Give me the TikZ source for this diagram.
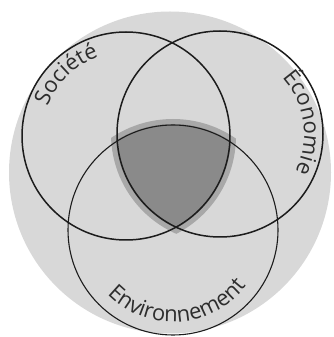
\documentclass[tikz,border=0pt]{standalone}
\usepackage{fontspec}
\setmainfont{Open Sans}
\usetikzlibrary{decorations.text}
\definecolor{bgc}{RGB}{216,216,216}
\definecolor{haloc}{RGB}{168,168,168}
\definecolor{darkc}{RGB}{138,138,138}
\definecolor{linec}{RGB}{28,28,28}
\definecolor{textc}{RGB}{45,45,45}
\tikzset{
  ring/.style={draw=linec, line width=1.5pt},
  arclabel/.style={decorate, decoration={text along path, text align=center, text={#1}}}
}
\begin{document}
\begin{tikzpicture}[x=1pt,y=1pt]
\useasboundingbox (0,0) rectangle (334,337);
% background disc
\fill[bgc] (170,164.5) circle[radius=161];
% halo of the common part
\begin{scope}
  \clip (126,201) circle[radius=110];
  \clip (220,203) circle[radius=109];
  \fill[haloc] (173,107) circle[radius=111];
\end{scope}
% common part
\begin{scope}
  \clip (126,201) circle[radius=105];
  \clip (220,203) circle[radius=104];
  \fill[darkc] (173,107) circle[radius=106];
\end{scope}
% the three circles
\node[ring, circle, minimum size=208pt, inner sep=0pt] (soc) at (126,201) {};
\node[ring, circle, minimum size=206pt, inner sep=0pt] (eco) at (220,203) {};
\node[ring, circle, minimum size=210pt, inner sep=0pt, line width=1.1pt] (env) at (173,107) {};
% labels
\path[arclabel={|\fontsize{22}{24}\selectfont\color{textc}|Société}]
  (126,201) ++(176:84) arc[start angle=176, end angle=92, radius=84];
\path[arclabel={|\fontsize{22}{24}\selectfont\color{textc}|Économie}]
  (220,203) ++(50:84) arc[start angle=50, end angle=-34, radius=84];
\path[arclabel={|\fontsize{22}{24}\selectfont\color{textc}|Environnement}]
  (173,107) ++(-142:92) arc[start angle=-142, end angle=-31, radius=92];
\end{tikzpicture}
\end{document}
